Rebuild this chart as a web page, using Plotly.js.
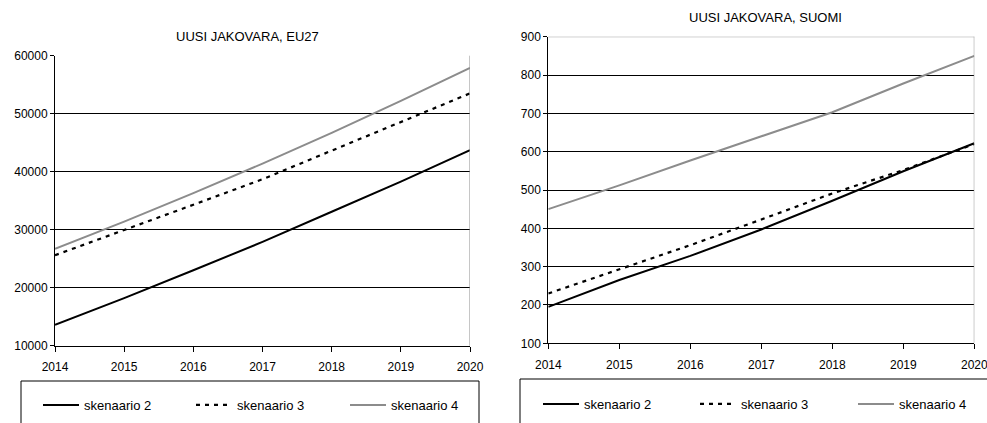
<!DOCTYPE html>
<html>
<head>
<meta charset="utf-8">
<script src="https://cdn.plot.ly/plotly-3.0.1.min.js"></script>
<style>
html,body{margin:0;padding:0;background:#fff;}
#chart{width:987px;height:423px;}
</style>
</head>
<body>
<div id="chart"></div>
<script>
const years = [2014, 2015, 2016, 2017, 2018, 2019, 2020];
const seriesNames = ['skenaario 2', 'skenaario 3', 'skenaario 4'];
const titleEU = 'UUSI JAKOVARA, EU27';
const titleFI = 'UUSI JAKOVARA, SUOMI';

const euS2 = [13600, 18200, 23000, 27900, 33100, 38300, 43700];
const euS3 = [25600, 29900, 34300, 38700, 43600, 48500, 53500];
const euS4 = [26700, 31400, 36300, 41400, 46700, 52200, 57900];

const fiS2 = [195, 265, 328, 397, 472, 549, 622];
const fiS3 = [230, 293, 356, 423, 491, 552, 620];
const fiS4 = [450, 512, 577, 640, 703, 778, 850];

const FONT = 'Liberation Sans, Arial, sans-serif';
const styles = [
  {color: '#000000', width: 2, dash: 'solid'},
  {color: '#000000', width: 2.2, dash: '4px,5px'},
  {color: '#8c8c8c', width: 2, dash: 'solid'}
];

function mk(y, i, xa, ya, lg) {
  return {
    x: years, y: y, type: 'scatter', mode: 'lines',
    name: seriesNames[i], xaxis: xa, yaxis: ya, legend: lg,
    line: styles[i], hoverinfo: 'skip'
  };
}

const traces = [
  mk(euS2, 0, 'x', 'y', 'legend'),
  mk(euS3, 1, 'x', 'y', 'legend2'),
  mk(euS4, 2, 'x', 'y', 'legend3'),
  mk(fiS2, 0, 'x2', 'y2', 'legend4'),
  mk(fiS3, 1, 'x2', 'y2', 'legend5'),
  mk(fiS4, 2, 'x2', 'y2', 'legend6')
];

const W = 987, H = 423;
const px = v => v / W;
const py = v => (H - v) / H;

function xax(dom) {
  return {
    domain: dom, range: [2014, 2020], dtick: 1, tick0: 2014, tickformat: 'd',
    showgrid: false, zeroline: false, showline: true, linecolor: '#000', linewidth: 1,
    ticks: 'outside', ticklen: 5, tickcolor: '#000', tickwidth: 1,
    ticklabelstandoff: 5, ticklabeloverflow: 'allow',
    tickfont: {family: FONT, size: 12, color: '#000'}, fixedrange: true
  };
}
function yax(dom, rng, dt, anchor) {
  return {
    domain: dom, range: rng, dtick: dt, anchor: anchor, tickformat: 'd',
    showgrid: true, gridcolor: '#000', gridwidth: 1, zeroline: false,
    showline: true, linecolor: '#000', linewidth: 1,
    ticks: 'outside', ticklen: 4, tickcolor: '#000',
    tickfont: {family: FONT, size: 12, color: '#000'}, fixedrange: true
  };
}

function lg(xLine, yMid) {
  return {
    orientation: 'h', x: px(xLine - 5), y: py(yMid), xanchor: 'left', yanchor: 'middle',
    itemwidth: 36, bgcolor: 'rgba(0,0,0,0)', borderwidth: 0,
    font: {family: FONT, size: 13, color: '#000'}
  };
}

const layout = {
  width: W, height: H,
  margin: {l: 0, r: 0, t: 0, b: 0, autoexpand: false},
  paper_bgcolor: '#fff', plot_bgcolor: '#fff',
  showlegend: true,
  xaxis: Object.assign(xax([px(55), px(470)]), {anchor: 'y'}),
  yaxis: yax([py(345.7), py(55.7)], [10000, 60000], 10000, 'x'),
  xaxis2: Object.assign(xax([px(548.3), px(974.3)]), {anchor: 'y2'}),
  yaxis2: yax([py(343.3), py(36.7)], [100, 900], 100, 'x2'),
  legend: lg(43, 405),
  legend2: lg(196, 405),
  legend3: lg(350, 405),
  legend4: lg(543, 404),
  legend5: lg(700, 404),
  legend6: lg(858, 404),
  annotations: [
    {text: titleEU, xref: 'paper', yref: 'paper', x: px(247), y: py(36), xanchor: 'center', yanchor: 'middle',
     showarrow: false, font: {family: FONT, size: 13, color: '#000'}},
    {text: titleFI, xref: 'paper', yref: 'paper', x: px(765), y: py(18), xanchor: 'center', yanchor: 'middle',
     showarrow: false, font: {family: FONT, size: 13, color: '#000'}}
  ],
  shapes: [
    {type: 'line', xref: 'x', yref: 'y domain', x0: 2020, x1: 2020, y0: 0, y1: 1, line: {color: '#8c8c8c', width: 1}},
    {type: 'line', xref: 'x2', yref: 'y2 domain', x0: 2020, x1: 2020, y0: 0, y1: 1, line: {color: '#8c8c8c', width: 1}},
    {type: 'line', xref: 'x2 domain', yref: 'y2', x0: 0, x1: 1, y0: 900, y1: 900, line: {color: '#8c8c8c', width: 1}},
    {type: 'rect', xref: 'paper', yref: 'paper', x0: px(21), x1: px(479), y0: py(381), y1: py(440),
     line: {color: '#000', width: 1}, fillcolor: 'rgba(0,0,0,0)'},
    {type: 'rect', xref: 'paper', yref: 'paper', x0: px(520), x1: px(1000), y0: py(379), y1: py(440),
     line: {color: '#000', width: 1}, fillcolor: 'rgba(0,0,0,0)'}
  ]
};

Plotly.newPlot('chart', traces, layout, {displayModeBar: false, staticPlot: true});
</script>
</body>
</html>
